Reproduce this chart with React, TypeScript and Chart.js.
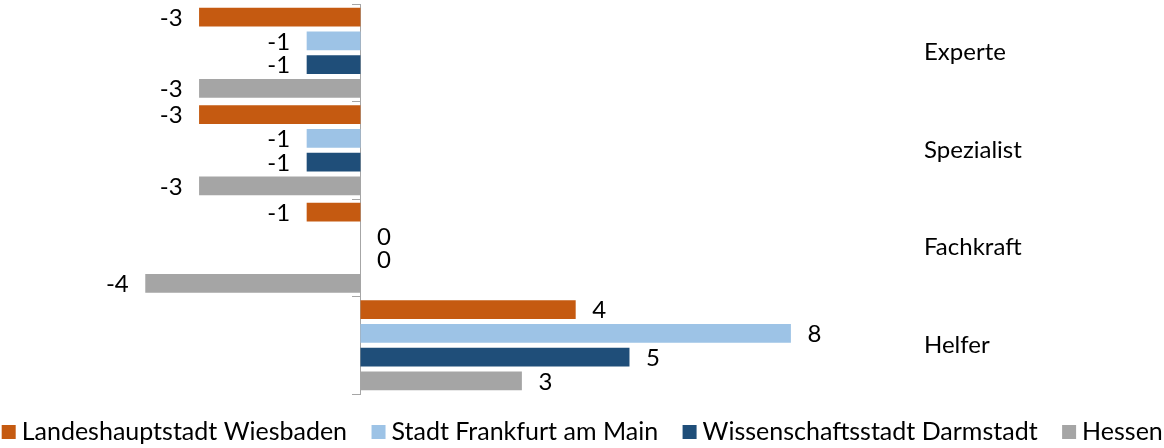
import React, { useEffect, useRef } from 'react';
import { Chart, registerables } from 'chart.js';

Chart.register(...registerables);

const categories = ['Experte', 'Spezialist', 'Fachkraft', 'Helfer'];
const seriesNames = [
  'Landeshauptstadt Wiesbaden',
  'Stadt Frankfurt am Main',
  'Wissenschaftsstadt Darmstadt',
  'Hessen',
];
const wiesbaden = [-3, -3, -1, 4];
const frankfurt = [-1, -1, 0, 8];
const darmstadt = [-1, -1, 0, 5];
const hessen = [-3, -3, -4, 3];
const seriesColors = ['#C55A11', '#9DC3E6', '#1F4E79', '#A5A5A5'];

const X_MIN = -6.7;
const X_MAX = 10;

const FONT = 'Lato';

const valueLabels = {
  id: 'valueLabels',
  afterDatasetsDraw(chart: any) {
    const ctx = chart.ctx;
    ctx.save();
    ctx.font = `24px ${FONT}`;
    ctx.fillStyle = '#000000';
    ctx.textBaseline = 'middle';
    chart.data.datasets.forEach((ds: any, di: number) => {
      const meta = chart.getDatasetMeta(di);
      meta.data.forEach((bar: any, i: number) => {
        const v = ds.data[i];
        const neg = v < 0;
        ctx.textAlign = neg ? 'right' : 'left';
        ctx.fillText(String(v), bar.x + (neg ? -16.5 : 16.5), bar.y + 1);
      });
    });
    ctx.restore();
  },
};

const legendShift = {
  id: 'legendShift',
  afterLayout(chart: any) {
    const l = chart.legend;
    if (l) {
      l.top -= 5.5;
    }
  },
};

const noVerticalPadding = (scale: any) => {
  scale.paddingTop = 0;
  scale.paddingBottom = 0;
};

export default function App() {
  const canvasRef = useRef<HTMLCanvasElement | null>(null);

  useEffect(() => {
    if (!canvasRef.current) return;
    const seriesData = [wiesbaden, frankfurt, darmstadt, hessen];
    const chart = new Chart(canvasRef.current, {
      type: 'bar',
      data: {
        labels: categories,
        datasets: seriesNames.map((name, i) => ({
          label: name,
          data: seriesData[i],
          backgroundColor: seriesColors[i],
          borderWidth: 0,
          categoryPercentage: 0.972,
          barPercentage: 0.79,
        })),
      },
      options: {
        indexAxis: 'y',
        animation: false,
        responsive: true,
        maintainAspectRatio: false,
        font: { family: FONT },
        layout: { padding: { top: 4, bottom: 0, left: -60, right: -67 } },
        scales: {
          x: {
            display: false,
            min: X_MIN,
            max: X_MAX,
          },
          y: {
            type: 'category',
            position: 'right',
            offset: true,
            grid: { display: false, drawTicks: false, offset: true },
            border: { display: false },
            ticks: {
              padding: 25.5,
              crossAlign: 'near',
              color: '#000000',
              font: { family: FONT, size: 24 },
            },
            afterFit: (scale: any) => {
              scale.width = 332.5;
              noVerticalPadding(scale);
            },
          },
          y2: {
            type: 'category',
            axis: 'y',
            position: { x: 0 },
            offset: true,
            z: 1,
            grid: {
              display: true,
              drawOnChartArea: false,
              drawTicks: true,
              tickLength: 8,
              color: '#A6A6A6',
              offset: true,
            },
            border: { display: true, color: '#A6A6A6', width: 1 },
            ticks: { display: false },
            afterFit: noVerticalPadding,
          },
        } as any,
        plugins: {
          legend: {
            position: 'bottom',
            maxHeight: 54,
            labels: {
              usePointStyle: true,
              pointStyle: 'rect',
              boxWidth: 1,
              boxHeight: 14,
              padding: 31,
              color: '#000000',
              font: { family: FONT, size: 25 },
            },
          },
          tooltip: { enabled: false },
          title: { display: false },
        },
      } as any,
      plugins: [valueLabels, legendShift],
    });
    return () => chart.destroy();
  }, []);

  return (
    <div style={{ position: 'fixed', left: 0, top: 0, width: 1164, height: 448, background: '#ffffff' }}>
      <canvas ref={canvasRef} />
    </div>
  );
}
